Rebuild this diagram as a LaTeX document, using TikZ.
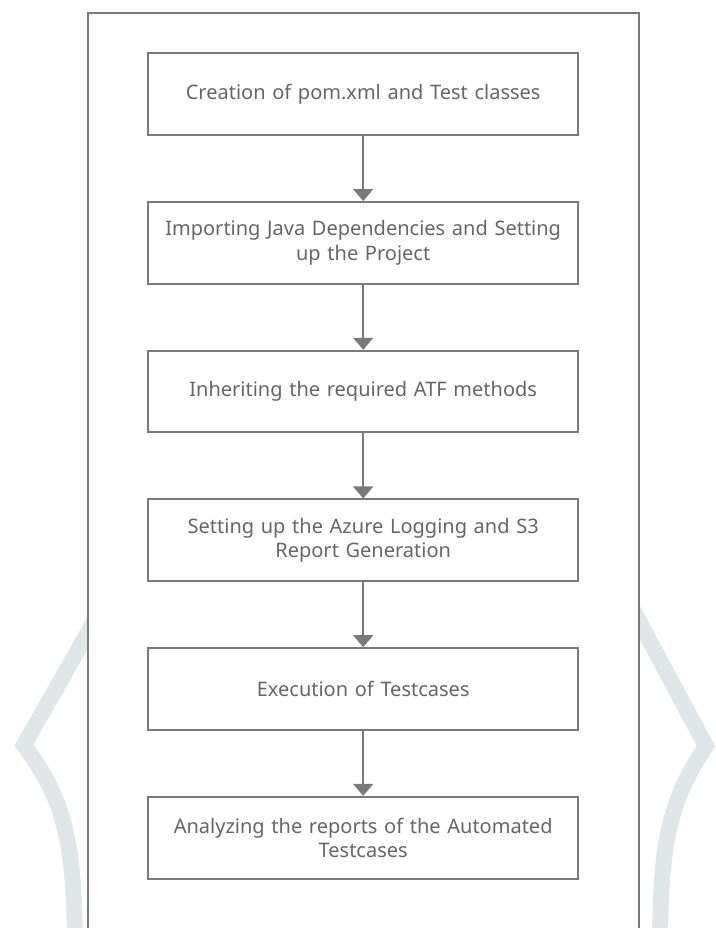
\documentclass[tikz,border=0pt]{standalone}
\usepackage{fontspec}
\setmainfont{Noto Sans}
\usetikzlibrary{arrows.meta}
\definecolor{linegrey}{HTML}{7A7A7A}
\definecolor{textgrey}{HTML}{666666}
\definecolor{wmark}{HTML}{E1E6E9}
\begin{document}
\begin{tikzpicture}[x=1pt,y=-1pt,
  stepbox/.style={draw=linegrey, line width=2pt, fill=white, minimum width=429.7pt, minimum height=81.7pt, text width=420pt, align=center, font=\fontsize{20}{24.5}\selectfont, text=textgrey, inner sep=0pt},
  flow/.style={draw=linegrey, line width=2pt, -{Triangle[width=20pt,length=12pt]}},
  band/.style={draw=wmark, line width=16pt}]
\useasboundingbox (0,0) rectangle (715,928);
% watermark bands
\draw[band] (95,620) -- (24,745) .. controls (60,795) and (75,830) .. (75,950);
\draw[band] (632,608) -- (706,746) .. controls (670,800) and (660,840) .. (660,950);
% frame
\fill[white] (87.5,13) rectangle (638.7,950);
\draw[linegrey, line width=2pt] (87.5,950) -- (87.5,13) -- (638.7,13) -- (638.7,950);
% steps
\node[stepbox] (b1) at (363.2,94.2) {Creation of pom.xml and Test classes};
\node[stepbox] (b2) at (363.2,242.9) {Importing Java Dependencies and Setting\\up the Project};
\node[stepbox] (b3) at (363.2,391.6) {Inheriting the required ATF methods};
\node[stepbox] (b4) at (363.2,540.3) {Setting up the Azure Logging and S3\\Report Generation};
\node[stepbox] (b5) at (363.2,689.0) {Execution of Testcases};
\node[stepbox] (b6) at (363.2,837.7) {Analyzing the reports of the Automated\\Testcases};
\draw[flow] (b1) -- (b2);
\draw[flow] (b2) -- (b3);
\draw[flow] (b3) -- (b4);
\draw[flow] (b4) -- (b5);
\draw[flow] (b5) -- (b6);
\end{tikzpicture}
\end{document}
